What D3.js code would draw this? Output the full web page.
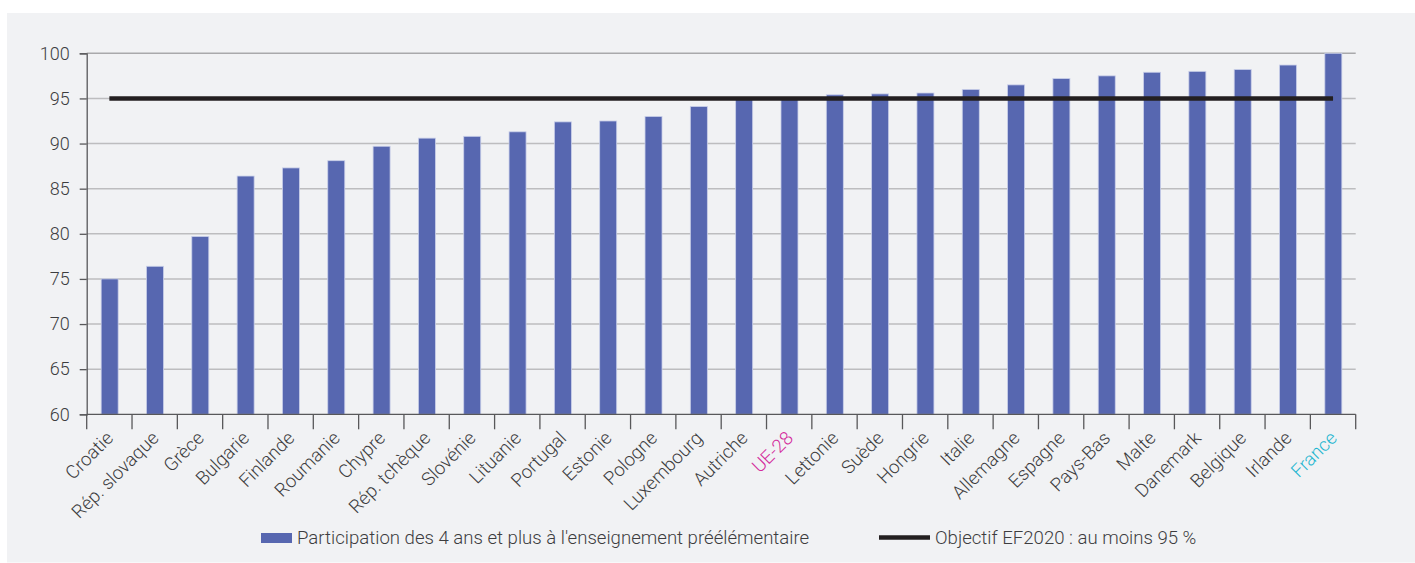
<!DOCTYPE html>
<html>
<head>
<meta charset="utf-8">
<script src="https://cdn.jsdelivr.net/npm/d3@7/dist/d3.min.js"></script>
<style>
  html, body { margin: 0; padding: 0; background: #ffffff; }
  svg { display: block; }
  text { font-family: Roboto, "Open Sans", sans-serif; }
</style>
</head>
<body>
<svg id="chart" width="1415" height="563"></svg>
<script>
const categories = ["Croatie", "Rép. slovaque", "Grèce", "Bulgarie", "Finlande", "Roumanie", "Chypre", "Rép. tchèque", "Slovénie", "Lituanie", "Portugal", "Estonie", "Pologne", "Luxembourg", "Autriche", "UE-28", "Lettonie", "Suède", "Hongrie", "Italie", "Allemagne", "Espagne", "Pays-Bas", "Malte", "Danemark", "Belgique", "Irlande", "France"];
const participation = [75.0, 76.4, 79.7, 86.4, 87.3, 88.1, 89.7, 90.6, 90.8, 91.3, 92.4, 92.5, 93.0, 94.1, 95.0, 95.1, 95.4, 95.5, 95.6, 96.0, 96.5, 97.2, 97.5, 97.9, 98.0, 98.2, 98.7, 100.0];
const objective = 95;
const yTicks = [60, 65, 70, 75, 80, 85, 90, 95, 100];
const legendLabels = ["Participation des 4 ans et plus à l'enseignement préélémentaire", "Objectif EF2020 : au moins 95 %"];
const highlight = { "UE-28": "#d42c9c", "France": "#1fb6d0" };

const svg = d3.select("#chart");
const W = 1415, H = 563;
const m = { left: 86.7, right: 1355.7, top: 53.3, bottom: 414.3 };
const txt = "#3d3d3f";

svg.append("rect").attr("x", 7).attr("y", 13).attr("width", W - 7).attr("height", 549.5).attr("fill", "#f1f2f4");

const x = d3.scaleBand().domain(categories).range([m.left, m.right]).paddingInner(0).paddingOuter(0);
const y = d3.scaleLinear().domain([60, 100]).range([m.bottom, m.top]);

// gridlines
svg.append("g").selectAll("line").data(yTicks.filter(t => t > 60)).join("line")
  .attr("x1", m.left).attr("x2", m.right)
  .attr("y1", d => y(d)).attr("y2", d => y(d))
  .attr("stroke", d => d === 100 ? "#a9a9ab" : "#bdbdbf")
  .attr("stroke-width", 1.5);

// bars
const bw = 17;
svg.append("g").selectAll("rect").data(categories).join("rect")
  .attr("x", d => x(d) + x.bandwidth() / 2 - bw / 2 + 0.3)
  .attr("y", (d, i) => y(participation[i]))
  .attr("width", bw)
  .attr("height", (d, i) => y(60) - y(participation[i]))
  .attr("fill", "#5767b0")
  .attr("stroke", "#c9cfe9")
  .attr("stroke-width", 0.8);

// objective line
svg.append("line")
  .attr("x1", x(categories[0]) + x.bandwidth() / 2)
  .attr("x2", x(categories[categories.length - 1]) + x.bandwidth() / 2)
  .attr("y1", y(objective)).attr("y2", y(objective))
  .attr("stroke", "#231f20").attr("stroke-width", 4.5);

// y axis
const yAxis = d3.axisLeft(y).tickValues(yTicks).tickSize(7).tickPadding(10);
const gy = svg.append("g").attr("transform", `translate(${m.left},0)`).call(yAxis);
gy.select(".domain").attr("stroke", "#58585a").attr("stroke-width", 1.3);
gy.selectAll(".tick line").attr("stroke", "#58585a").attr("stroke-width", 1.3);
gy.selectAll(".tick text").attr("font-size", 18).attr("fill", txt).attr("font-weight", 300)
  .style("font-family", "Roboto");

// x axis line and ticks at band boundaries
svg.append("line").attr("x1", m.left).attr("x2", m.right).attr("y1", m.bottom).attr("y2", m.bottom)
  .attr("stroke", "#58585a").attr("stroke-width", 1.3);
const bounds = categories.map(c => x(c)).concat([m.right]);
svg.append("g").selectAll("line").data(bounds).join("line")
  .attr("x1", d => d).attr("x2", d => d)
  .attr("y1", m.bottom).attr("y2", m.bottom + 15)
  .attr("stroke", "#58585a").attr("stroke-width", 1.3);

// x labels
svg.append("g").selectAll("text").data(categories).join("text")
  .attr("transform", d => `translate(${x(d) + x.bandwidth() / 2 + 5},${m.bottom + 25}) rotate(-45)`)
  .attr("text-anchor", "end")
  .attr("font-size", 18.6)
  .attr("font-weight", 300)
  .attr("fill", d => highlight[d] || txt)
  .text(d => d);

// legend
const lg = svg.append("g");
lg.append("rect").attr("x", 261).attr("y", 533).attr("width", 31).attr("height", 10).attr("fill", "#5767b0");
lg.append("text").attr("x", 297).attr("y", 544).attr("font-size", 18.6).attr("font-weight", 300).attr("fill", txt).text(legendLabels[0]);
lg.append("line").attr("x1", 879).attr("x2", 930).attr("y1", 537.5).attr("y2", 537.5).attr("stroke", "#231f20").attr("stroke-width", 4.5);
lg.append("text").attr("x", 935).attr("y", 544).attr("font-size", 18.6).attr("font-weight", 300).attr("fill", txt).text(legendLabels[1]);
</script>
</body>
</html>
